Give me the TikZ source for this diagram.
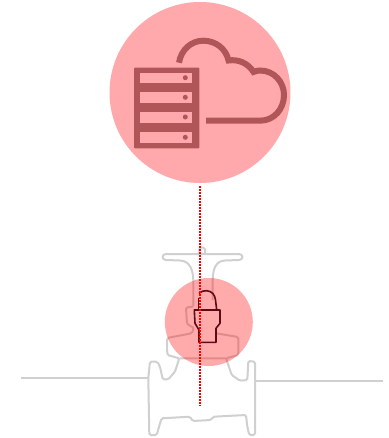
\documentclass[tikz,border=0pt]{standalone}
\usetikzlibrary{positioning, calc}
\definecolor{halo}{HTML}{FFA9AC}
\definecolor{iconred}{HTML}{B05558}
\definecolor{valvegrey}{HTML}{D0D0D0}
\definecolor{lockred}{HTML}{5C0A14}

\begin{document}
\begin{tikzpicture}[x=1pt, y=-1pt,
  haloball/.style={circle, fill=halo, draw=none, inner sep=0pt, minimum size=181pt},
  spot/.style={circle, fill=red, fill opacity=0.33, draw=none, inner sep=0pt, minimum size=88pt},
  icon/.style={draw=iconred, line width=6pt},
  slot/.style={fill=halo, draw=none},
  led/.style={fill=iconred, draw=none},
  valve/.style={draw=valvegrey, line width=2pt, rounded corners=1.5pt},
  pipe/.style={draw=valvegrey, line width=2pt},
  lock/.style={draw=lockred, line width=1.6pt, line join=round},
  tether/.style={draw=red, line width=2pt, dash pattern=on 1.6pt off 1.4pt}]
  \useasboundingbox (0,0) rectangle (388,438);
  \node[haloball] (cloudball) at (200,92.5) {};
  % server
  \fill[iconred, rounded corners=0.8pt] (134,67.7) rectangle (199.3,148.3);
  \foreach \y/\ly in {72.7/77.7, 92.3/97.3, 112/117, 132.3/137.3} {
    \fill[slot] (140,\y) rectangle (191.7,\y+10.6);
    \fill[led] (185.3,\ly) circle (2.5);
  }
  % cloud
  \draw[icon] (179,62.7) .. controls (181,50) and (191,40.7) .. (203.3,40.7)
    .. controls (216,40.7) and (226,49) .. (228.5,60.5)
    .. controls (238,59) and (248,63) .. (253.5,72)
    .. controls (255.5,71) and (258,70.5) .. (260,70.5)
    .. controls (274,70.5) and (284,82) .. (284,95)
    .. controls (284,109) and (274,120.7) .. (260,120.7) -- (206,120.7);
  % valve
  \draw[valve] (199.3,254) -- (199.3,247.7) -- (205,247.7) -- (205,254);
  \draw[valve, rounded corners=0pt] (193.3,306) -- (193.3,280) .. controls (193,270) and (190,261) .. (180,260.5)
    -- (166,260) .. controls (161.5,260) and (161.5,254) .. (166,254) -- (239,254)
    .. controls (243.5,254) and (243.5,260) .. (239,260) -- (225,260.5)
    .. controls (215,261) and (213,270) .. (212.7,280) -- (212.7,300);
  \draw[valve] (193.3,306.5) -- (186,307.5) -- (187,324) -- (194,328) -- (191.7,333.3) -- (167,338)
    -- (167.3,355) -- (179.3,358.3) -- (175,371.7) -- (168.3,379.3) -- (162.7,379.3) -- (160,366.7)
    -- (157.3,361.7) -- (150,361.7) -- (148.3,377.7) -- (149.3,435) -- (156.7,435) -- (160,423.3)
    -- (161.7,418.3) -- (190,416.7) -- (192.7,421) -- (211,420) -- (213.3,416.7) -- (246,415)
    -- (247.3,426.7) -- (249.3,435) -- (255,435) -- (255,361.7) -- (248.3,361) -- (247.3,380)
    -- (240,380.7) -- (231.7,375) -- (226,358.3) -- (238.3,355) -- (238.3,337) -- (216,333.3);
  \draw[valve] (179.3,358.3) -- (210,358.5) -- (226,358.3);
  \coordinate (pipeL) at (21,377.7);
  \coordinate (flangeL) at (148.3,377.7);
  \coordinate (pipeR) at (383.3,381.3);
  \coordinate (flangeR) at (255.7,381.3);
  \draw[pipe] (pipeL) -- (flangeL);
  \draw[pipe] (flangeR) -- (pipeR);
  \node[spot] (valveball) at (208.8,322) {};
  % lock
  \draw[lock] (194.3,310) -- (220,310) -- (220,323.3) -- (216,328.3) -- (216,342.3) -- (199,342.3)
    -- (199,330) -- (195,323.3) -- cycle;
  \draw[lock] (198.3,310) -- (198.3,298.3);
  \draw[lock] (199,293.3) .. controls (202,291) and (204,290.7) .. (206.7,290.7)
    .. controls (212,291) and (215,295) .. (215.5,300) -- (216.7,310);
  % tether
  \coordinate (tetherstart) at (199.5,186);
  \coordinate (tetherend) at (199.5,405.7);
  \draw[tether] (tetherstart) -- (tetherend);
\end{tikzpicture}
\end{document}
